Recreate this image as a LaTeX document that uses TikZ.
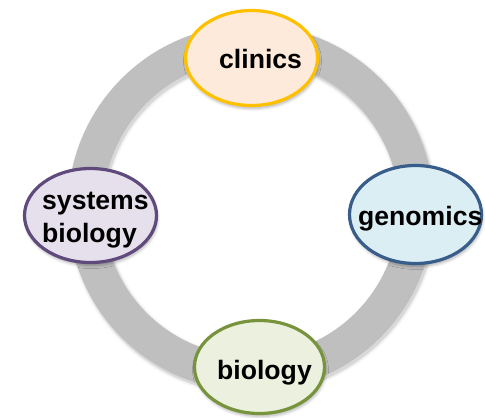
\documentclass[tikz,border=0pt]{standalone}
\usepackage{fontspec}
\setmainfont{Liberation Sans}
\usetikzlibrary{shapes.geometric,shadows.blur}

\definecolor{ringgray}{HTML}{BFBFBF}
\definecolor{clinicsline}{HTML}{FFC000}
\definecolor{clinicsfill}{HTML}{FDEADA}
\definecolor{genomicsline}{HTML}{385D8A}
\definecolor{genomicsfill}{HTML}{DBEEF4}
\definecolor{systemsline}{HTML}{604A7B}
\definecolor{systemsfill}{HTML}{E5E0EC}
\definecolor{biologyline}{HTML}{77933C}
\definecolor{biologyfill}{HTML}{EBF1DE}

\tikzset{
  topic/.style={ellipse, draw=#1line, fill=#1fill, line width=3.2pt,
    inner sep=0pt, minimum width=132pt, minimum height=95pt,
    blur shadow={shadow xshift=1pt, shadow yshift=-3pt,
      shadow opacity=30, shadow blur steps=6, shadow blur radius=3pt}},
  word/.style={anchor=base west, inner sep=0pt,
    font=\fontsize{26.6}{32}\selectfont\bfseries},
}

\begin{document}
\begin{tikzpicture}[x=1pt, y=-1pt]
  \useasboundingbox (0,0) rectangle (485,418);

  % the grey ring and its soft shadow
  \coordinate (hub) at (251,208);
  \foreach \w/\o in {41/0.03, 38/0.05, 36/0.08}
    \draw[black, opacity=\o, line width=\w pt] ([shift={(1.5,2.5)}]hub) circle[radius=165.5];
  \draw[ringgray, line width=35pt] (hub) circle[radius=165.5];

  % the four topics on the ring
  \node[topic=clinics, minimum height=95pt] (clinics) at (251.5,58) {};
  \node[topic=genomics, minimum height=98pt] (genomics) at (415.5,214.5) {};
  \node[topic=systems, minimum height=94pt] (systems) at (90.5,215.5) {};
  \node[topic=biology, minimum width=130pt, minimum height=93pt] (biology) at (259.5,367) {};

  % labels
  \node[word] (clinicstext) at (219,68) {clinics};
  \node[word] (genomicstext) at (358,225) {genomics};
  \node[word] (systemstext) at (42,209) {systems};
  \node[word] (systemstext2) at (42,242) {biology};
  \node[word] (biologytext) at (217,379) {biology};
\end{tikzpicture}
\end{document}
